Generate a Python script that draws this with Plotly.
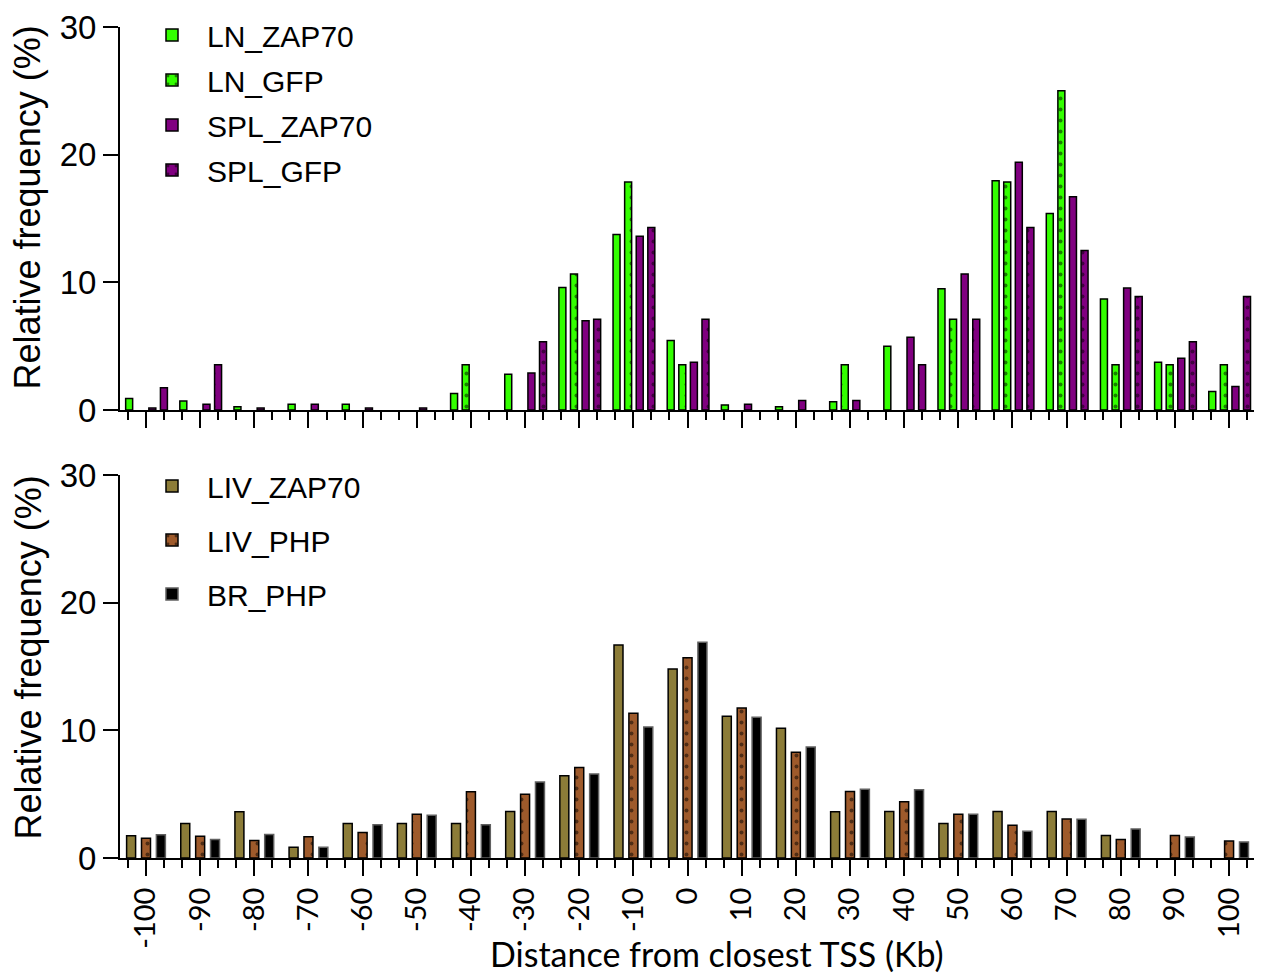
import plotly.graph_objects as go

# ---------------- data ----------------
distance_kb = [-100, -90, -80, -70, -60, -50, -40, -30, -20, -10, 0,
               10, 20, 30, 40, 50, 60, 70, 80, 90, 100]
tick_labels = [str(v) for v in distance_kb]

ln_zap70 = [0.9, 0.7, 0.25, 0.45, 0.45, 0, 1.3, 2.8, 9.6, 13.75, 5.45,
            0.4, 0.25, 0.65, 5.0, 9.5, 17.95, 15.4, 8.7, 3.75, 1.45]
ln_gfp = [0, 0, 0, 0, 0, 0, 3.55, 0, 10.65, 17.85, 3.55,
          0, 0, 3.55, 0, 7.1, 17.85, 25.0, 3.55, 3.55, 3.55]
spl_zap70 = [0.15, 0.45, 0.15, 0.45, 0.15, 0.15, 0, 2.9, 7.0, 13.6, 3.75,
             0.45, 0.75, 0.75, 5.7, 10.65, 19.4, 16.7, 9.55, 4.05, 1.85]
spl_gfp = [1.75, 3.55, 0, 0, 0, 0, 0, 5.35, 7.1, 14.3, 7.1,
           0, 0, 0, 3.55, 7.1, 14.3, 12.5, 8.9, 5.35, 8.9]

liv_zap70 = [1.75, 2.7, 3.63, 0.85, 2.7, 2.7, 2.7, 3.65, 6.45, 16.68, 14.8,
             11.1, 10.16, 3.63, 3.65, 2.71, 3.65, 3.65, 1.77, 0, 0]
liv_php = [1.55, 1.7, 1.38, 1.67, 2.0, 3.42, 5.19, 5.0, 7.08, 11.33, 15.69,
           11.75, 8.28, 5.2, 4.41, 3.42, 2.56, 3.05, 1.44, 1.77, 1.33]
br_php = [1.82, 1.45, 1.85, 0.85, 2.6, 3.35, 2.61, 5.95, 6.58, 10.26, 16.89,
          11.02, 8.69, 5.38, 5.35, 3.42, 2.09, 3.03, 2.27, 1.64, 1.26]

top_names = ["LN_ZAP70", "LN_GFP", "SPL_ZAP70", "SPL_GFP"]
top_series = [ln_zap70, ln_gfp, spl_zap70, spl_gfp]
bot_names = ["LIV_ZAP70", "LIV_PHP", "BR_PHP"]
bot_series = [liv_zap70, liv_php, br_php]

# ---------------- styles ----------------
GREEN = "#33ff00"
PURPLE = "#800080"
OLIVE = "#8c7c38"
BROWN = "#9e5a2b"
BLACK = "#000000"
top_colors = [GREEN, GREEN, PURPLE, PURPLE]
top_dotted = [False, True, False, True]
bot_colors = [OLIVE, BROWN, BLACK]
bot_dotted = [False, True, False]
bot_lines = ["#000000", "#000000", "#606060"]

X_RANGE = [-104.8, 104.6]
TOP_SLOT, TOP_W = 2.14, 1.29
BOT_SLOT, BOT_W = 2.75, 1.66

ARIAL = "Liberation Sans, Arial, sans-serif"
CAL = "Lato, Carlito, Calibri, sans-serif"


def pattern(dotted, color):
    if dotted:
        return dict(shape=".", size=11, solidity=0.1, fgcolor="black",
                    bgcolor=color, fillmode="overlay")
    return dict(shape="")


def nonzero(vals):
    # empty bins are simply not drawn
    return [v if v else None for v in vals]


fig = go.Figure()

for k, (name, vals) in enumerate(zip(top_names, top_series)):
    center = (k - 1.5) * TOP_SLOT + 0.1
    fig.add_trace(go.Bar(
        x=distance_kb, y=nonzero(vals), name=name,
        offset=center - TOP_W / 2, width=TOP_W,
        marker=dict(color=top_colors[k], line=dict(color="black", width=1.5),
                    pattern=pattern(top_dotted[k], top_colors[k])),
        xaxis="x", yaxis="y", legend="legend", legendgroup=name,
    ))

for k, (name, vals) in enumerate(zip(bot_names, bot_series)):
    center = (k - 1) * BOT_SLOT
    fig.add_trace(go.Bar(
        x=distance_kb, y=nonzero(vals), name=name,
        offset=center - BOT_W / 2, width=BOT_W,
        marker=dict(color=bot_colors[k], line=dict(color=bot_lines[k], width=1.5),
                    pattern=pattern(bot_dotted[k], bot_colors[k])),
        xaxis="x2", yaxis="y2", legend="legend2", legendgroup=name,
    ))

minor = dict(tick0=-100, dtick=10 / 3, ticks="outside", ticklen=8, tickwidth=2,
             tickcolor="black", showgrid=False)
xcommon = dict(range=X_RANGE, showline=True, linewidth=2, linecolor="black",
               ticks="outside", ticklen=16, tickwidth=2, tickcolor="black",
               tickmode="array", tickvals=distance_kb, ticktext=tick_labels,
               showgrid=False, zeroline=False, minor=minor, domain=[0, 1],
               automargin=False)
ycommon = dict(range=[0, 30], dtick=10, tick0=0, showline=True, linewidth=2,
               linecolor="black", ticks="outside", ticklen=15, tickwidth=2,
               tickcolor="black", showgrid=False, zeroline=False,
               automargin=False,
               tickfont=dict(family=ARIAL, size=33, color="black"))

W, H = 1266, 974
ML, MR, MT, MB = 120, 12, 27, 116
PW, PH = W - ML - MR, H - MT - MB


def px_x(p):
    return (p - ML) / PW


def px_y(p):
    return (H - MB - p) / PH


legend_common = dict(xanchor="left", yanchor="top",
                     font=dict(family=ARIAL, size=30, color="black"),
                     bgcolor="rgba(0,0,0,0)", itemwidth=60,
                     traceorder="grouped")

fig.update_layout(
    width=W, height=H,
    margin=dict(l=ML, r=MR, t=MT, b=MB, autoexpand=False),
    paper_bgcolor="white", plot_bgcolor="white",
    barmode="overlay",
    xaxis=dict(**xcommon, anchor="y", showticklabels=False),
    yaxis=dict(**ycommon, domain=[px_y(410), 1], anchor="x"),
    xaxis2=dict(**xcommon, anchor="y2", showticklabels=True, tickangle=-90,
                tickfont=dict(family=CAL, size=29, color="black")),
    yaxis2=dict(**ycommon, domain=[0, px_y(475)], anchor="x2"),
    legend=dict(**legend_common, x=px_x(137), y=px_y(9), tracegroupgap=3),
    legend2=dict(**legend_common, x=px_x(137), y=px_y(460), tracegroupgap=12),
    annotations=[
        dict(text="Relative frequency (%)", textangle=-90, showarrow=False,
             xref="paper", yref="paper", x=px_x(27.5), y=px_y(208),
             xanchor="center", yanchor="middle",
             font=dict(family=ARIAL, size=36, color="black")),
        dict(text="Relative frequency (%)", textangle=-90, showarrow=False,
             xref="paper", yref="paper", x=px_x(27.5), y=px_y(658),
             xanchor="center", yanchor="middle",
             font=dict(family=ARIAL, size=36, color="black")),
        dict(text="Distance from closest TSS (Kb)", showarrow=False,
             xref="paper", yref="paper", x=px_x(716.7), y=px_y(953),
             xanchor="center", yanchor="middle",
             font=dict(family=CAL, size=34, color="black")),
    ],
)

fig.write_html("out.html")
